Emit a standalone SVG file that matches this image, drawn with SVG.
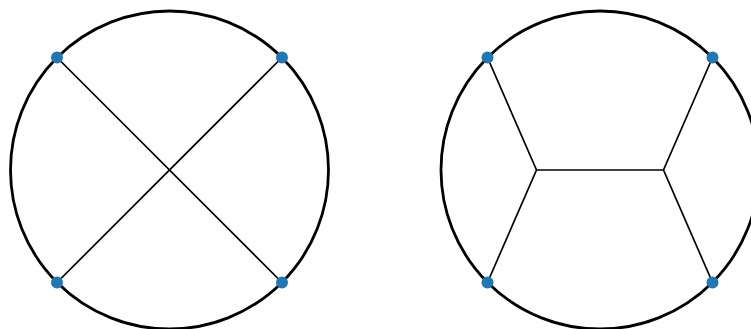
<svg xmlns="http://www.w3.org/2000/svg" width="751" height="329" viewBox="0 0 751 329">
<style>
.circ{fill:none;stroke:#000;stroke-width:2.8}
.edge{stroke:#000;stroke-width:1.7;fill:none}
.dot{fill:#1f77b4}
</style>
<rect width="751" height="329" fill="#fff"/>
<g id="left-circle"><circle class="circ" cx="169.5" cy="170" r="159"/></g>
<g id="right-circle"><circle class="circ" cx="600" cy="170" r="159"/></g>
<g id="connectors">
<line class="edge" x1="57" y1="57.5" x2="282" y2="282.5"/>
<line class="edge" x1="282" y1="57.5" x2="57" y2="282.5"/>
<polyline class="edge" points="487.5,57.5 536.5,170 487.5,282.5"/>
<polyline class="edge" points="712.5,57.5 663.5,170 712.5,282.5"/>
<line class="edge" x1="536.5" y1="170" x2="663.5" y2="170"/>
</g>
<g id="n1"><circle class="dot" cx="57" cy="57.5" r="6"/></g>
<g id="n2"><circle class="dot" cx="282" cy="57.5" r="6"/></g>
<g id="n3"><circle class="dot" cx="57" cy="282.5" r="6"/></g>
<g id="n4"><circle class="dot" cx="282" cy="282.5" r="6"/></g>
<g id="n5"><circle class="dot" cx="487.5" cy="57.5" r="6"/></g>
<g id="n6"><circle class="dot" cx="712.5" cy="57.5" r="6"/></g>
<g id="n7"><circle class="dot" cx="487.5" cy="282.5" r="6"/></g>
<g id="n8"><circle class="dot" cx="712.5" cy="282.5" r="6"/></g>
</svg>
